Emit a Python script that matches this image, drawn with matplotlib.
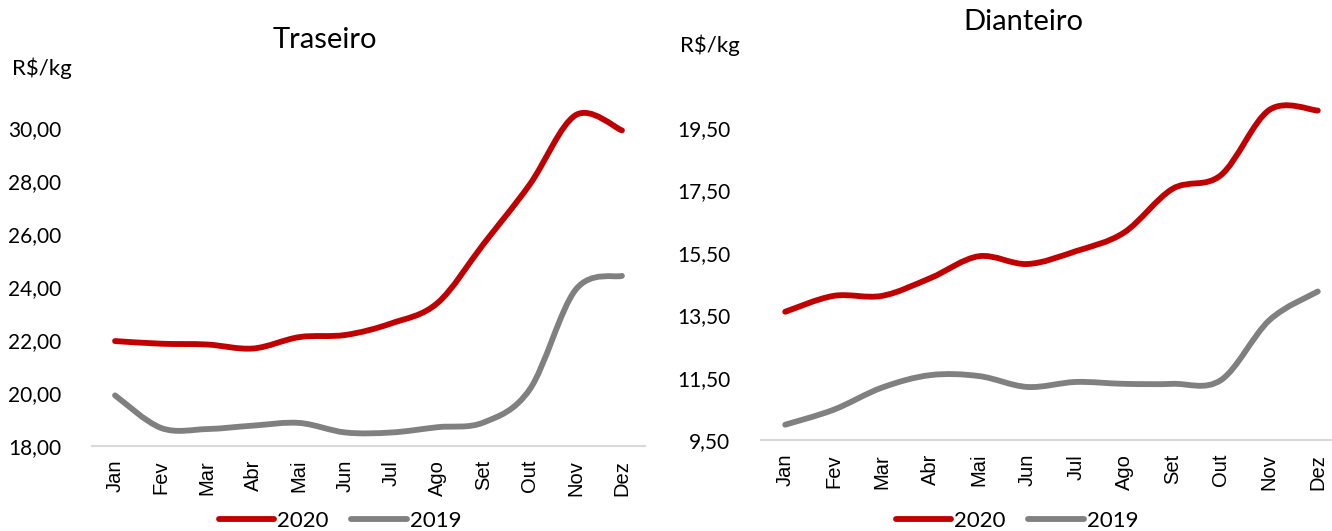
import matplotlib
matplotlib.use("Agg")
from matplotlib import pyplot as plt
from matplotlib.path import Path
from matplotlib.patches import PathPatch
from matplotlib.lines import Line2D
import numpy as np

meses = ['Jan', 'Fev', 'Mar', 'Abr', 'Mai', 'Jun', 'Jul', 'Ago', 'Set', 'Out', 'Nov', 'Dez']

traseiro_2020 = [21.96, 21.86, 21.83, 21.68, 22.11, 22.19, 22.63, 23.40, 25.63, 27.87, 30.49, 29.91]
traseiro_2019 = [19.91, 18.68, 18.64, 18.77, 18.87, 18.51, 18.51, 18.71, 18.89, 20.14, 23.91, 24.42]

dianteiro_2020 = [13.61, 14.12, 14.12, 14.69, 15.39, 15.14, 15.55, 16.15, 17.55, 17.99, 20.08, 20.06]
dianteiro_2019 = [9.99, 10.47, 11.18, 11.58, 11.55, 11.20, 11.36, 11.30, 11.30, 11.42, 13.34, 14.26]

RED = '#C00000'
GRAY = '#808080'
W, H = 1332, 531


def smooth_line(ax, ys, color):
    # excel-style smoothed line: bezier segments through the data points
    xs = np.arange(len(ys), dtype=float)
    ys = np.asarray(ys, dtype=float)
    pts = np.column_stack([xs, ys])
    n = len(pts)
    verts = [pts[0]]
    codes = [Path.MOVETO]
    for i in range(n - 1):
        p0 = pts[i - 1] if i > 0 else pts[i]
        p1 = pts[i]
        p2 = pts[i + 1]
        p3 = pts[i + 2] if i + 2 < n else pts[i + 1]
        c1 = p1 + (p2 - p0) / 6.0
        c2 = p2 - (p3 - p1) / 6.0
        verts += [c1, c2, p2]
        codes += [Path.CURVE4] * 3
    patch = PathPatch(Path(verts, codes), facecolor='none', edgecolor=color,
                      lw=4.2, capstyle='round', joinstyle='round',
                      transform=ax.transData)
    ax.add_patch(patch)


def setup(ax, ylim, yticks):
    ax.set_xlim(-0.5, 11.5)
    ax.set_ylim(*ylim)
    ax.set_yticks(yticks)
    ax.set_yticklabels([('%.2f' % t).replace('.', ',') for t in yticks],
                       fontfamily='Lato', fontsize=15)
    ax.set_xticks(range(12))
    ax.set_xticklabels(meses, rotation=90, fontfamily='Liberation Sans', fontsize=14.5)
    for s in ['top', 'right', 'left']:
        ax.spines[s].set_visible(False)
    ax.spines['bottom'].set_color('#d9d9d9')
    ax.spines['bottom'].set_linewidth(1.5)
    ax.tick_params(length=0)
    ax.tick_params(axis='y', pad=22)
    ax.tick_params(axis='x', pad=10)


fig = plt.figure(figsize=(13.32, 5.31), dpi=100)

ax1 = fig.add_axes([92 / W, 1 - 446 / H, 553 / W, (446 - 101.5) / H])
setup(ax1, (18, 31), np.arange(18, 30.1, 2))
smooth_line(ax1, traseiro_2020, RED)
smooth_line(ax1, traseiro_2019, GRAY)

ax2 = fig.add_axes([761 / W, 1 - 440 / H, 581 / W, (440 - 96.8) / H])
setup(ax2, (9.5, 20.5), np.arange(9.5, 19.6, 2))
smooth_line(ax2, dianteiro_2020, RED)
smooth_line(ax2, dianteiro_2019, GRAY)

fig.text(325 / W, 1 - 40 / H, 'Traseiro', ha='center', va='center', fontfamily='Lato', fontsize=21)
fig.text(12 / W, 1 - 68 / H, 'R$/kg', ha='left', va='center', fontfamily='Lato', fontsize=16)
fig.text(1023 / W, 1 - 22 / H, 'Dianteiro', ha='center', va='center', fontfamily='Lato', fontsize=21)
fig.text(680 / W, 1 - 45 / H, 'R$/kg', ha='left', va='center', fontfamily='Lato', fontsize=16)

handles = [Line2D([], [], color=RED, lw=4.2, solid_capstyle='round'),
           Line2D([], [], color=GRAY, lw=4.2, solid_capstyle='round')]
for cx in (340, 1017):
    fig.legend(handles, ['2020', '2019'], loc='center', ncol=2,
               bbox_to_anchor=(cx / W, 1 - 521 / H), frameon=False,
               prop={'family': 'Lato', 'size': 16}, handlelength=2.5,
               handletextpad=0.15, columnspacing=1.0, borderpad=0)

fig.savefig('out.png', dpi=100)
